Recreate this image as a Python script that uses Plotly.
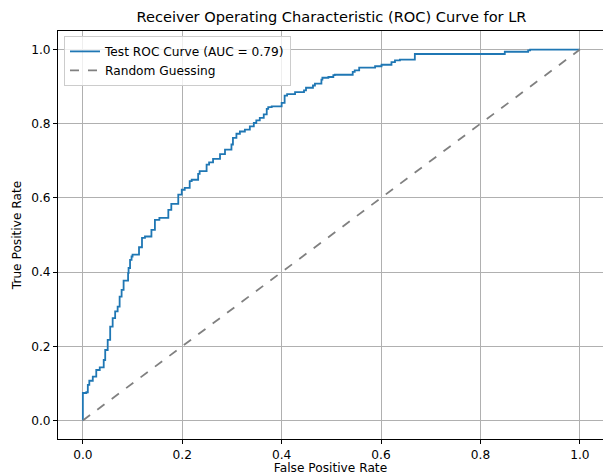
import plotly.graph_objects as go

# ROC curve points (False Positive Rate, True Positive Rate)
fpr = [0.0, 0.0, 0.007, 0.01, 0.013, 0.02, 0.027, 0.034, 0.042, 0.045, 0.05, 0.055,
       0.06, 0.065, 0.07, 0.074, 0.078, 0.082, 0.084, 0.091, 0.092, 0.095, 0.098, 0.1,
       0.113, 0.119, 0.125, 0.138, 0.145, 0.154, 0.172, 0.178, 0.184, 0.192, 0.199,
       0.205, 0.215, 0.219, 0.232, 0.235, 0.249, 0.254, 0.262, 0.276, 0.286, 0.299,
       0.302, 0.309, 0.316, 0.326, 0.336, 0.344, 0.349, 0.356, 0.364, 0.37, 0.373,
       0.38, 0.4, 0.406, 0.411, 0.427, 0.445, 0.449, 0.463, 0.467, 0.48, 0.482, 0.494,
       0.504, 0.507, 0.543, 0.547, 0.556, 0.588, 0.601, 0.621, 0.628, 0.638, 0.668,
       0.671, 0.849, 0.853, 0.896, 0.9, 0.909, 1.0]
tpr = [0.0, 0.01, 0.074, 0.076, 0.096, 0.107, 0.118, 0.136, 0.143, 0.163, 0.19, 0.217,
       0.253, 0.276, 0.294, 0.307, 0.334, 0.352, 0.377, 0.377, 0.397, 0.411, 0.433, 0.442,
       0.447, 0.467, 0.492, 0.496, 0.514, 0.541, 0.546, 0.568, 0.584, 0.584, 0.609,
       0.622, 0.627, 0.645, 0.649, 0.665, 0.672, 0.69, 0.696, 0.705, 0.718, 0.73,
       0.744, 0.762, 0.773, 0.779, 0.784, 0.793, 0.802, 0.809, 0.816, 0.825, 0.84,
       0.845, 0.847, 0.856, 0.876, 0.88, 0.885, 0.89, 0.897, 0.903, 0.908, 0.919, 0.924,
       0.926, 0.931, 0.932, 0.94, 0.944, 0.951, 0.955, 0.959, 0.966, 0.971, 0.973,
       0.988, 0.988, 0.994, 0.994, 0.998, 1.0, 1.0]

random_x = [0.0, 1.0]
random_y = [0.0, 1.0]

auc_value = 0.79
tick_vals = [0.0, 0.2, 0.4, 0.6, 0.8, 1.0]
tick_text = ["0.0", "0.2", "0.4", "0.6", "0.8", "1.0"]

FONT = "DejaVu Sans, Liberation Sans, sans-serif"
FS = 12.2

fig = go.Figure()
fig.add_trace(go.Scatter(
    x=fpr, y=tpr, mode="lines", line=dict(color="#1f77b4", width=1.8, shape="vh"),
    name=f"Test ROC Curve (AUC = {auc_value:.2f})"))
fig.add_trace(go.Scatter(
    x=random_x, y=random_y, mode="lines", line=dict(color="gray", width=1.8, dash="dash"),
    name="Random Guessing"))

axis_common = dict(
    showline=True, linecolor="black", linewidth=1, mirror=True,
    ticks="outside", ticklen=4, tickcolor="black", tickwidth=1,
    showgrid=True, gridcolor="#b0b0b0", gridwidth=1, zeroline=False,
    tickfont=dict(family=FONT, size=FS, color="black"),
    tickvals=tick_vals, ticktext=tick_text,
)

fig.update_layout(
    width=603, height=475,
    margin=dict(l=58, r=0, t=31, b=36, autoexpand=False),
    paper_bgcolor="white", plot_bgcolor="white",
    font=dict(family=FONT, color="black"),
    title=dict(text="Receiver Operating Characteristic (ROC) Curve for LR",
               x=(58 + 605) / 2 / 603, xanchor="center", y=1 - 17 / 475, yanchor="middle",
               font=dict(family=FONT, size=14.6, color="black")),
    xaxis=dict(range=[-0.05, 1.0466], automargin=False,
               title=dict(text="False Positive Rate", font=dict(family=FONT, size=FS), standoff=2),
               **axis_common),
    yaxis=dict(range=[-0.05, 1.05], automargin=False,
               title=dict(text="True Positive Rate", font=dict(family=FONT, size=FS), standoff=6),
               **axis_common),
    legend=dict(x=0.011, y=0.988, xanchor="left", yanchor="top",
                bgcolor="rgba(255,255,255,0.8)", bordercolor="#cccccc", borderwidth=1,
                font=dict(family=FONT, size=FS, color="black"),
                itemwidth=30, tracegroupgap=0),
    showlegend=True,
)

fig.write_html("out.html", config={"displayModeBar": False},
               post_script="document.body.style.margin='0px';")
